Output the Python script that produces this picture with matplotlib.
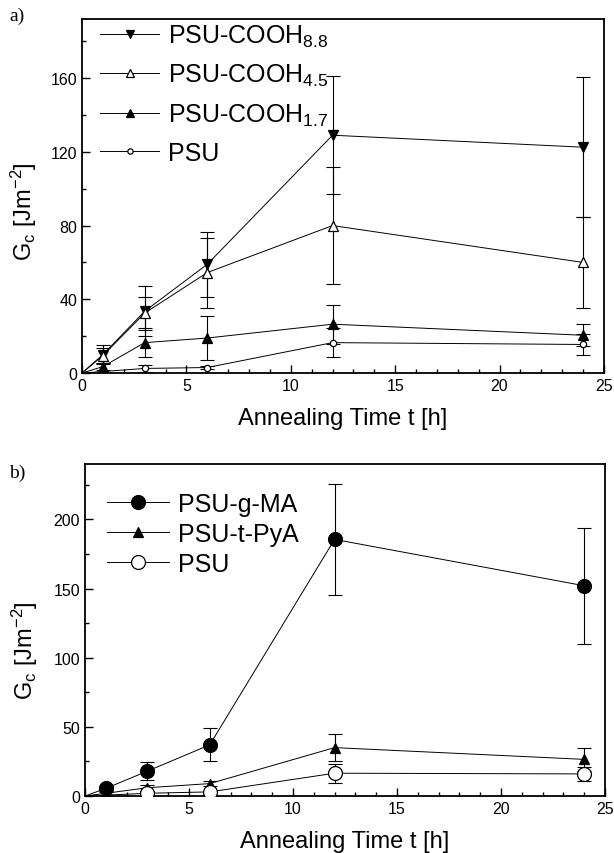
import numpy as np
import matplotlib.pyplot as plt
from matplotlib.ticker import MultipleLocator

plt.rcParams["font.family"] = ["Liberation Sans", "DejaVu Sans"]
plt.rcParams["mathtext.fontset"] = "custom"
plt.rcParams["mathtext.rm"] = "Liberation Sans"
plt.rcParams["mathtext.it"] = "Liberation Sans"

# annealing times [h]
t = [0, 1, 3, 6, 12, 24]
t_psu = [0, 3, 6, 12, 24]

# panel a: G_c [J m^-2] and error bars
cooh88 = [0, 10, 33.5, 59, 129, 122.5]
cooh88_err = [0, 5, 13.5, 17.6, 32, 38]
cooh45 = [0, 9.5, 32.5, 54.5, 80, 60]
cooh45_err = [0, 4, 9, 19, 31.5, 24.6]
cooh17 = [0, 3.5, 16.5, 19, 26.5, 20.5]
cooh17_err = [0, 2, 8, 12, 10.5, 6]
psu_a = [0, 2.5, 3, 16.5, 15.5]
psu_a_err = [0, 2, 1, 8, 5.5]

# panel b
gma = [0, 5.5, 18, 37, 185.5, 152]
gma_err = [0, 1.5, 6.5, 12, 40, 42]
tpya = [0, 2, 6, 9, 35, 26.5]
tpya_err = [0, 1, 2, 2, 10, 8.5]
psu_b = [0, 2, 3, 16.5, 16]
psu_b_err = [0, 1, 1, 7, 5]


def series(ax, x, y, err, marker, ms, filled, label):
    # line starts at the origin, but the origin carries no symbol
    ax.plot(x, y, color="black", lw=0.7, marker=marker, ms=ms,
            mfc="black" if filled else "white", mec="black", mew=0.9,
            markevery=list(range(1, len(x))), label=label, zorder=3)
    ax.errorbar(x[1:], y[1:], yerr=err[1:], fmt="none", ecolor="black",
                elinewidth=0.8, capsize=5, capthick=0.8, zorder=2)


fig = plt.figure(figsize=(6.14, 8.54), dpi=100)
ax1 = fig.add_axes([0.1336, 0.562, 0.850, 0.4145])
ax2 = fig.add_axes([0.1384, 0.0667, 0.8469, 0.3888])

series(ax1, t, cooh88, cooh88_err, "v", 7.5, True, "PSU-COOH$_{8.8}$")
series(ax1, t, cooh45, cooh45_err, "^", 7.5, False, "PSU-COOH$_{4.5}$")
series(ax1, t, cooh17, cooh17_err, "^", 7.5, True, "PSU-COOH$_{1.7}$")
series(ax1, t_psu, psu_a, psu_a_err, "o", 4.5, False, "PSU")

series(ax2, t, gma, gma_err, "o", 10, True, "PSU-g-MA")
series(ax2, t, tpya, tpya_err, "^", 6.5, True, "PSU-t-PyA")
series(ax2, t_psu, psu_b, psu_b_err, "o", 10, False, "PSU")

ax1.set_ylim(0, 192)
ax1.yaxis.set_major_locator(MultipleLocator(40))
ax1.yaxis.set_minor_locator(MultipleLocator(20))
ax2.set_ylim(0, 240)
ax2.yaxis.set_major_locator(MultipleLocator(50))
ax2.yaxis.set_minor_locator(MultipleLocator(25))

for ax in (ax1, ax2):
    ax.set_xlim(0, 25)
    ax.xaxis.set_major_locator(MultipleLocator(5))
    ax.xaxis.set_minor_locator(MultipleLocator(1))
    ax.tick_params(which="both", direction="in", labelsize=11.5, width=1)
    ax.tick_params(which="major", length=6)
    ax.tick_params(which="minor", length=3)
    for s in ax.spines.values():
        s.set_linewidth(1.3)
    ax.set_xlabel("Annealing Time t [h]", fontsize=17, labelpad=10)
    ax.set_ylabel("G$_c$ [Jm$^{-2}$]", fontsize=17)

ax1.yaxis.set_label_coords(-0.082, 0.46)
ax2.yaxis.set_label_coords(-0.087, 0.44)

ax1.legend(loc="upper left", bbox_to_anchor=(0.035, 0.99), frameon=False, fontsize=18,
           handlelength=2.36, labelspacing=0.53, handletextpad=0.36, borderaxespad=0,
           borderpad=0, markerscale=0.85)
ax2.legend(loc="upper left", bbox_to_anchor=(0.043, 0.915), frameon=False, fontsize=18,
           handlelength=2.48, labelspacing=0.24, handletextpad=0.36, borderaxespad=0,
           borderpad=0)

fig.text(0.015, 0.975, "a)", fontsize=14, family="Liberation Serif")
fig.text(0.015, 0.440, "b)", fontsize=14, family="Liberation Serif")

fig.savefig("out.png", dpi=100)
